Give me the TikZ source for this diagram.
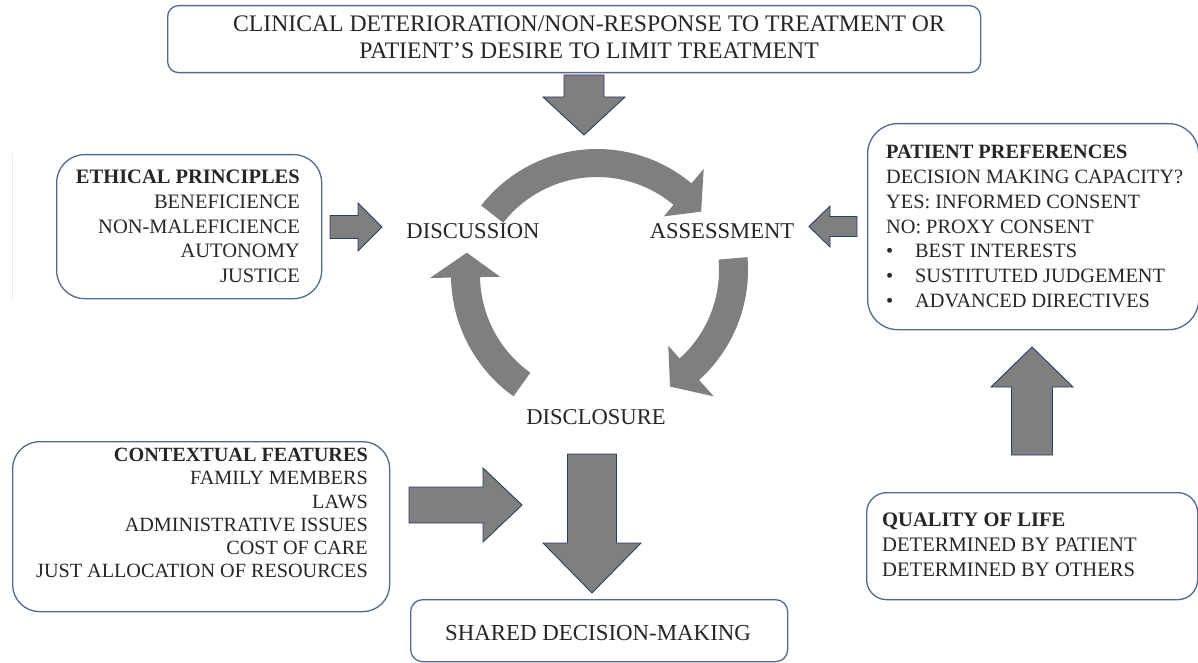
\documentclass[tikz,border=0pt]{standalone}
\usepackage{fontspec}
\setmainfont{Liberation Serif}
\definecolor{boxline}{RGB}{84,105,145}
\definecolor{arrline}{RGB}{47,62,95}
\definecolor{arrfill}{RGB}{127,127,127}
\tikzset{
  box/.style={draw=boxline, line width=1.3pt, fill=white, inner sep=0pt, anchor=north west},
  blockarrow/.style={fill=arrfill, draw=arrline, line width=0.9pt, line join=miter},
  cyc/.style={fill=arrfill},
  lbl/.style={inner sep=0pt, font=\fontsize{22.6}{27}\selectfont, text=black!85},
  boxtext/.style={inner sep=0pt, text=black!85},
  pics/barrow/.style args={#1/#2/#3/#4}{code={
    \draw[blockarrow] (0,-#2) -- ({#1-#4},-#2) -- ({#1-#4},-#3) -- (#1,0)
      -- ({#1-#4},#3) -- ({#1-#4},#2) -- (0,#2) -- cycle;}}
}
\begin{document}
\begin{tikzpicture}[x=1pt,y=-1pt]
\useasboundingbox[fill=white] (0,0) rectangle (1198,663);

% faint line at left edge
\draw[black!8, line width=0.8pt] (12,153) -- (12,300);

% ---------- boxes (base anchor = baseline of last line) ----------
\node[box, rounded corners=11, minimum width=813, minimum height=67] (top) at (167,5) {};
\node[boxtext, anchor=base, align=center, font=\fontsize{23.7}{26.5}\selectfont] (toptext) at (589,58.5)
  {CLINICAL DETERIORATION/NON-RESPONSE TO TREATMENT OR\\PATIENT'S DESIRE TO LIMIT TREATMENT};

\node[box, rounded corners=28, minimum width=265, minimum height=144] (eth) at (56,154) {};
\node[boxtext, anchor=base east, align=right, font=\fontsize{20.5}{24.7}\selectfont] (ethtext) at (300,282.6)
  {\textbf{ETHICAL PRINCIPLES}\\BENEFICIENCE\\NON-MALEFICIENCE\\AUTONOMY\\JUSTICE};

\node[box, rounded corners=30, minimum width=331, minimum height=206] (pat) at (867,123) {};
\node[boxtext, anchor=base west, align=left, font=\fontsize{20.3}{24.8}\selectfont] (pattext) at (886,307.5)
  {\textbf{PATIENT PREFERENCES}\\DECISION MAKING CAPACITY?\\YES: INFORMED CONSENT\\NO: PROXY CONSENT\\
   \makebox[29pt][l]{\textbullet}BEST INTERESTS\\\makebox[29pt][l]{\textbullet}SUSTITUTED JUDGEMENT\\
   \makebox[29pt][l]{\textbullet}ADVANCED DIRECTIVES};

\node[box, rounded corners=27, minimum width=377, minimum height=170] (ctx) at (12,441) {};
\node[boxtext, anchor=base east, align=right, font=\fontsize{20.2}{23.2}\selectfont] (ctxtext) at (368,577.7)
  {\textbf{CONTEXTUAL FEATURES}\\FAMILY MEMBERS\\LAWS\\ADMINISTRATIVE ISSUES\\COST OF CARE\\JUST ALLOCATION OF RESOURCES};

\node[box, rounded corners=20, minimum width=331, minimum height=107] (qol) at (866,492) {};
\node[boxtext, anchor=base west, align=left, font=\fontsize{20.6}{25}\selectfont] (qoltext) at (882,576.8)
  {\textbf{QUALITY OF LIFE}\\DETERMINED BY PATIENT\\DETERMINED BY OTHERS};

\node[box, rounded corners=12, minimum width=377, minimum height=62] (sdm) at (410,599) {};
\node[boxtext, font=\fontsize{22.9}{27}\selectfont] (sdmtext) at (598,633) {SHARED DECISION-MAKING};

% ---------- cycle labels ----------
\node[lbl] (disc) at (473,231) {DISCUSSION};
\node[lbl] (assess) at (722,231) {ASSESSMENT};
\node[lbl] (discl) at (596,417) {DISCLOSURE};

% ---------- cycle arrows ----------
\coordinate (ctop) at (597,296);
\coordinate (cright) at (600,270);
\coordinate (cleft) at (600,275);
\begin{scope}[shift={(ctop)}]
\fill[cyc] (-142:147) arc[start angle=-142, end angle=-50, radius=147] -- (-50:166) -- (-39:134)
  -- (-50:104) -- (-50:119) arc[start angle=-50, end angle=-142, radius=119] -- cycle;
\end{scope}
\begin{scope}[shift={(cright)}]
\fill[cyc] (-5:148) arc[start angle=-5, end angle=48, radius=148] -- (48:170) -- (59:136)
  -- (48:102) -- (48:119) arc[start angle=48, end angle=-5, radius=119] -- cycle;
\end{scope}
\begin{scope}[shift={(cleft)}]
\fill[cyc] (125.5:149) arc[start angle=125.5, end angle=179, radius=149] -- (179:170) -- (189.5:135)
  -- (179:100) -- (179:120) arc[start angle=179, end angle=125.5, radius=120] -- cycle;
\end{scope}

% ---------- block arrows ----------
\pic[rotate=-90] (a1) at (584,75) {barrow=60/20/41/38};
\pic (a2) at (330,227) {barrow=52/11.5/24/24};
\pic[rotate=180] (a3) at (857,226.5) {barrow=48/10/20.5/21};
\pic (a4) at (409,505) {barrow=113/18/37/39};
\pic[rotate=-90] (a5) at (592,454) {barrow=139/24.5/49/50};
\pic[rotate=90] (a6) at (1032,455) {barrow=108/20.5/41/40};
\end{tikzpicture}
\end{document}
